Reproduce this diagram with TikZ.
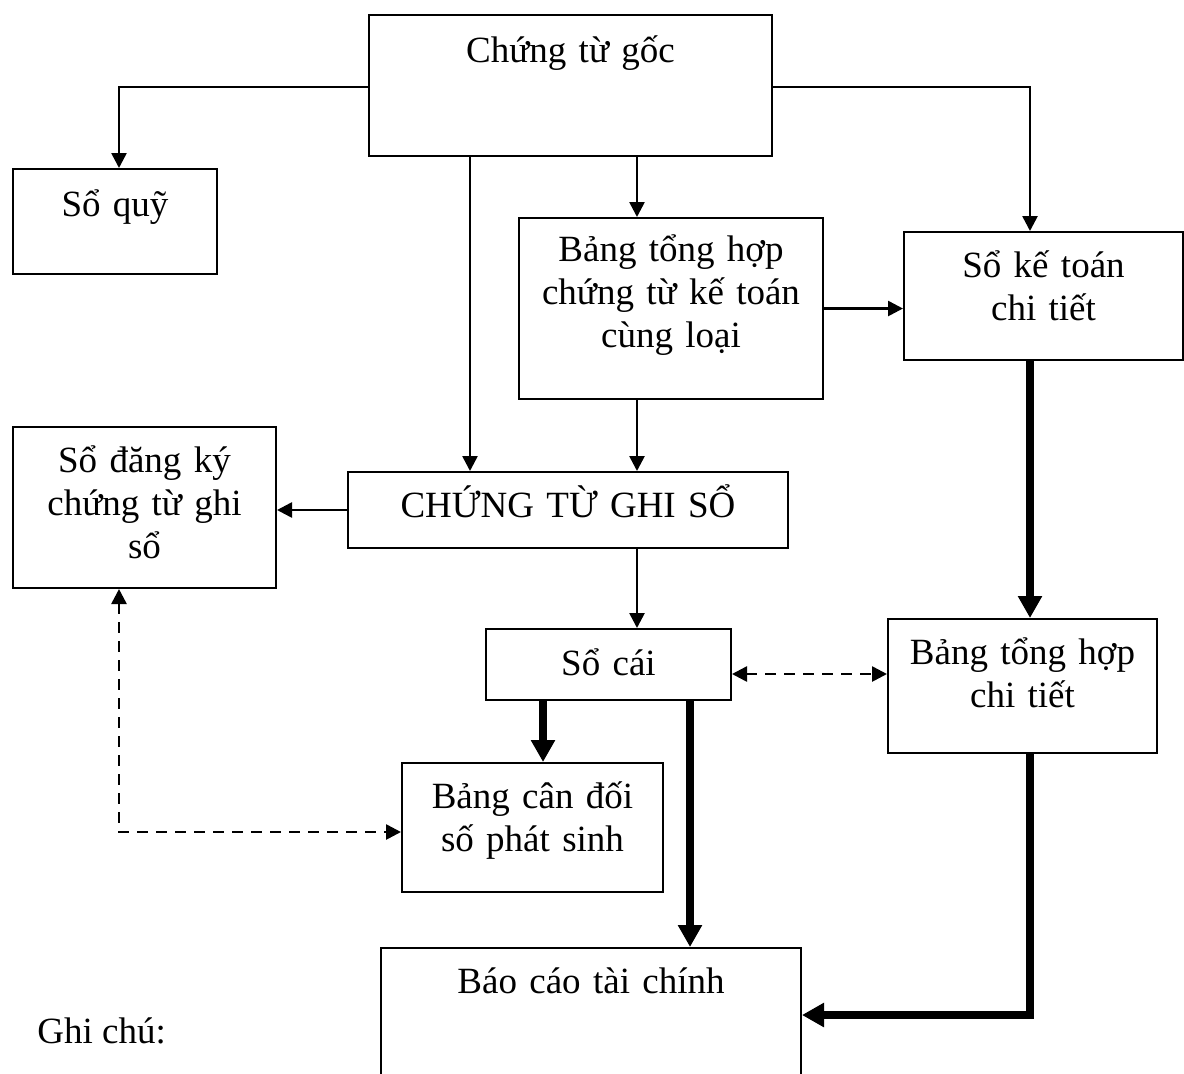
\documentclass[tikz,border=0pt]{standalone}
\usepackage{fontspec}
\setmainfont{Liberation Serif}
\usetikzlibrary{arrows.meta}

\begin{document}
\begin{tikzpicture}[x=0.5pt,y=-0.5pt,
    box/.style={draw,line width=1pt,anchor=north west,inner sep=0pt,align=center,
        font=\fontsize{18.5pt}{21.5pt}\selectfont},
    arr/.style={line width=1.3pt,-{Triangle[length=7.5pt,width=7.5pt]}},
    thickarr/.style={line width=3.8pt,-{Triangle[length=11pt,width=11.5pt]}},
    dasharr/.style={line width=1.3pt,dash pattern=on 5.5pt off 4pt,
        {Triangle[length=7.5pt,width=7.5pt]}-{Triangle[length=7.5pt,width=7.5pt]}}]
    \useasboundingbox (0,0) rectangle (1184,1073);
    % boxes
    \node[box,text width=201.5pt,text height=23.5pt,text depth=47pt] (goc) at (368,14) {Chứng từ gốc};
    \node[box,text width=102pt,text height=23.5pt,text depth=29pt] (quy) at (12,168) {Sổ quỹ};
    \node[box,text width=152pt,text height=21.5pt,text depth=69pt] (bth) at (518,217) {Bảng tổng hợp\\chứng từ kế toán\\cùng loại};
    \node[box,text width=139.5pt,text height=22.5pt,text depth=41.5pt] (sktct) at (903,231) {Sổ kế toán\\chi tiết};
    \node[box,text width=131.5pt,text height=22.5pt,text depth=58pt] (sdk) at (12,426) {Sổ đăng ký\\chứng từ ghi\\sổ};
    \node[box,text width=220pt,text height=22.5pt,text depth=15.5pt] (ctgs) at (347,471) {CHỨNG TỪ GHI SỔ};
    \node[box,text width=122.5pt,text height=23pt,text depth=12.5pt] (socai) at (485,628) {Sổ cái};
    \node[box,text width=134.5pt,text height=22.5pt,text depth=44.5pt] (bthct) at (887,618) {Bảng tổng hợp\\chi tiết};
    \node[box,text width=130.5pt,text height=22.5pt,text depth=42pt] (bcd) at (401,762) {Bảng cân đối\\số phát sinh};
    \node[box,text width=210pt,text height=22.5pt,text depth=59pt] (bctc) at (380,947) {Báo cáo tài chính};
    \node[anchor=base west,inner sep=0pt,font=\fontsize{18.5pt}{21.5pt}\selectfont] (ghichu) at (37,1043) {Ghi chú:};
    % guide lines for the connectors
    \coordinate (qcol) at (119,0);
    \coordinate (lcol) at (470,0);
    \coordinate (kcol) at (543,0);
    \coordinate (mcol) at (637,0);
    \coordinate (bcol) at (690,0);
    \coordinate (rcol) at (1030,0);
    \coordinate (qrow) at (0,87);
    \coordinate (drow) at (0,674);
    \coordinate (crow) at (0,832);
    \coordinate (brow) at (0,1015);
    % thin arrows
    \draw[arr] (goc.west |- qrow) -| (quy.north -| qcol);
    \draw[arr] (goc.east |- qrow) -| (sktct.north -| rcol);
    \draw[arr] (goc.south -| mcol) -- (bth.north -| mcol);
    \draw[arr] (goc.south -| lcol) -- (ctgs.north -| lcol);
    \draw[arr] (bth.east) -- (bth.east -| sktct.west);
    \draw[arr] (bth.south -| mcol) -- (ctgs.north -| mcol);
    \draw[arr] (ctgs.west) -- (ctgs.west -| sdk.east);
    \draw[arr] (ctgs.south -| mcol) -- (socai.north -| mcol);
    % thick arrows
    \draw[thickarr] (sktct.south -| rcol) -- (bthct.north -| rcol);
    \draw[thickarr] (socai.south -| kcol) -- (bcd.north -| kcol);
    \draw[thickarr] (socai.south -| bcol) -- (bctc.north -| bcol);
    \draw[thickarr] (bthct.south -| rcol) |- (bctc.east |- brow);
    % dashed arrows
    \draw[dasharr] (socai.east |- drow) -- (bthct.west |- drow);
    \draw[dasharr] (sdk.south -| qcol) |- (bcd.west |- crow);
\end{tikzpicture}
\end{document}
